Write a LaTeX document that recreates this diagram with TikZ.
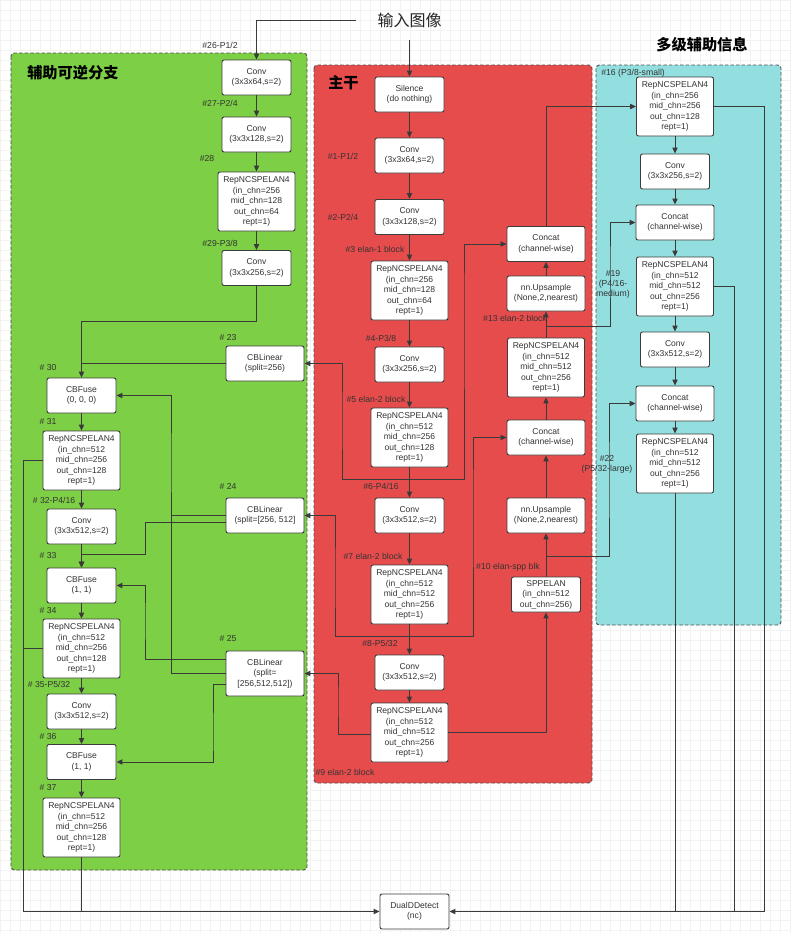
\documentclass[tikz,border=0pt]{standalone}
\usepackage{fontspec}
\setmainfont{Liberation Sans}
\newfontfamily\cjk{Noto Sans CJK SC}
\usetikzlibrary{calc,arrows.meta}

\definecolor{auxgreen}{HTML}{7DCF45}
\definecolor{mainred}{HTML}{E74C4C}
\definecolor{headcyan}{HTML}{93DFE0}
\definecolor{boxline}{HTML}{3C3C3C}
\definecolor{wirec}{HTML}{3A3A3A}
\definecolor{panelline}{HTML}{505050}
\definecolor{txt}{HTML}{333333}
\definecolor{gridc}{HTML}{F2F2F2}

\begin{document}
\begin{tikzpicture}[x=0.75pt, y=-0.75pt, >={Triangle[length=4.5pt,width=4pt]},
    blk/.style={draw=boxline, fill=white, rounded corners=1.5pt, line width=0.7pt,
        align=center, text=txt, font=\fontsize{6.4}{7.9}\selectfont, inner sep=0pt,
        minimum width=51.75pt, minimum height=26.25pt},
    wideblk/.style={blk, minimum width=58.5pt},
    repblk/.style={blk, minimum width=57.75pt, minimum height=44.25pt},
    tag/.style={text=txt, font=\fontsize{6.5}{7.6}\selectfont, inner sep=0pt, align=center},
    wire/.style={draw=wirec, line width=0.75pt},
    panel/.style={draw=panelline, line width=0.7pt, dash pattern=on 2.6pt off 1.6pt, rounded corners=2.5pt},
    heading/.style={font=\cjk\bfseries\fontsize{11.4}{13}\selectfont, inner sep=0pt}]

    % Canvas with grid
    \useasboundingbox (0,0) rectangle (791,933);
    \fill[white] (0,0) rectangle (791,933);
    \draw[gridc, line width=0.3pt, step=7.5pt] (0,933) grid (791,0);

    % Panels
    \draw[panel, fill=auxgreen] (11,53) rectangle (307,870);
    \draw[panel, fill=mainred] (314,65) rectangle (592,783);
    \draw[panel, fill=headcyan] (596,65) rectangle (781,625);

    \node[heading, anchor=west] (tgreen) at (27,73) {辅助可逆分支};
    \node[heading, anchor=west] (tred) at (328,83) {主干};
    \node[heading] (tcyan) at (702,45) {多级辅助信息};

    % Input
    \node[font=\cjk\fontsize{12}{14}\selectfont, text=black!85, inner sep=0pt,
        minimum width=79.5pt, minimum height=30pt] (inp) at (409.5,20) {输入图像};

    % Auxiliary reversible branch
    \node[blk] (c26) at (256.5,77.5) {Conv\\(3x3x64,s=2)};
    \node[blk] (c27) at (256.5,134.5) {Conv\\(3x3x128,s=2)};
    \node[repblk] (r28) at (256.5,201.5) {RepNCSPELAN4\\(in\_chn=256\\mid\_chn=128\\out\_chn=64\\rept=1)};
    \node[blk] (c29) at (256.5,268) {Conv\\(3x3x256,s=2)};
    \node[wideblk] (l23) at (265,363.5) {CBLinear\\(split=256)};
    \node[wideblk] (l24) at (265,515.5) {CBLinear\\(split=[256, 512]};
    \node[wideblk, minimum height=33.75pt] (l25) at (265,673.5) {CBLinear\\(split=\\{[}256,512,512])};
    \node[blk] (f30) at (81.5,395.5) {CBFuse\\(0, 0, 0)};
    \node[repblk] (r31) at (81.5,460.5) {RepNCSPELAN4\\(in\_chn=512\\mid\_chn=256\\out\_chn=128\\rept=1)};
    \node[blk] (c32) at (81.5,526.5) {Conv\\(3x3x512,s=2)};
    \node[blk] (f33) at (81.5,585.5) {CBFuse\\(1, 1)};
    \node[repblk] (r34) at (81.5,648.5) {RepNCSPELAN4\\(in\_chn=512\\mid\_chn=256\\out\_chn=128\\rept=1)};
    \node[blk] (c35) at (81.5,711.5) {Conv\\(3x3x512,s=2)};
    \node[blk] (f36) at (81.5,762) {CBFuse\\(1, 1)};
    \node[repblk] (r37) at (81.5,827.5) {RepNCSPELAN4\\(in\_chn=512\\mid\_chn=256\\out\_chn=128\\rept=1)};

    \node[tag] (n26) at (220,45) {\#26-P1/2};
    \node[tag] (n27) at (220,103) {\#27-P2/4};
    \node[tag] (n28) at (207,159) {\#28};
    \node[tag] (n29) at (220,243) {\#29-P3/8};
    \node[tag] (n23) at (228,338) {\# 23};
    \node[tag] (n24) at (228,486) {\# 24};
    \node[tag] (n25) at (228,639) {\# 25};
    \node[tag] (n30) at (48,368) {\# 30};
    \node[tag] (n31) at (48,422) {\# 31};
    \node[tag] (n32) at (54,500) {\# 32-P4/16};
    \node[tag] (n33) at (48,556) {\# 33};
    \node[tag] (n34) at (48,611) {\# 34};
    \node[tag] (n35) at (49,684) {\# 35-P5/32};
    \node[tag] (n36) at (48,737) {\# 36};
    \node[tag] (n37) at (48,788) {\# 37};

    % Backbone
    \node[blk] (sil) at (409.5,94.5) {Silence\\(do nothing)};
    \node[blk] (c1) at (409.5,155.5) {Conv\\(3x3x64,s=2)};
    \node[blk] (c2) at (409.5,217) {Conv\\(3x3x128,s=2)};
    \node[repblk] (r3) at (409.5,290.5) {RepNCSPELAN4\\(in\_chn=256\\mid\_chn=128\\out\_chn=64\\rept=1)};
    \node[blk] (c4) at (409.5,364.5) {Conv\\(3x3x256,s=2)};
    \node[repblk] (r5) at (409.5,437.5) {RepNCSPELAN4\\(in\_chn=512\\mid\_chn=256\\out\_chn=128\\rept=1)};
    \node[blk] (c6) at (409.5,515.5) {Conv\\(3x3x512,s=2)};
    \node[repblk] (r7) at (409.5,594.5) {RepNCSPELAN4\\(in\_chn=512\\mid\_chn=512\\out\_chn=256\\rept=1)};
    \node[blk] (c8) at (409.5,672.5) {Conv\\(3x3x512,s=2)};
    \node[repblk] (r9) at (409.5,732.5) {RepNCSPELAN4\\(in\_chn=512\\mid\_chn=512\\out\_chn=256\\rept=1)};

    \node[blk] (spp) at (546,594.5) {SPPELAN\\(in\_chn=512\\out\_chn=256)};
    \node[wideblk] (up11) at (546,515.5) {nn.Upsample\\(None,2,nearest)};
    \node[wideblk] (cat12) at (546,437.5) {Concat\\(channel-wise)};
    \node[repblk] (r13) at (546,367.5) {RepNCSPELAN4\\(in\_chn=512\\mid\_chn=512\\out\_chn=256\\rept=1)};
    \node[wideblk] (up14) at (546,293.5) {nn.Upsample\\(None,2,nearest)};
    \node[wideblk] (cat15) at (546,244) {Concat\\(channel-wise)};

    \node[tag] (n1) at (343,156) {\#1-P1/2};
    \node[tag] (n2) at (343,217) {\#2-P2/4};
    \node[tag] (n3) at (375,249) {\#3 elan-1 block};
    \node[tag] (n4) at (381,338) {\#4-P3/8};
    \node[tag] (n5) at (376,399) {\#5 elan-2 block};
    \node[tag] (n6) at (381,486) {\#6-P4/16};
    \node[tag] (n7) at (373,556) {\#7 elan-2 block};
    \node[tag] (n8) at (380,643) {\#8-P5/32};
    \node[tag] (n9) at (345,772) {\#9 elan-2 block};
    \node[tag] (n13) at (515,318) {\#13 elan-2 block};
    \node[tag] (n10) at (508,567) {\#10 elan-spp blk};

    % Multi-level auxiliary information
    \node[repblk] (r16) at (675,106.5) {RepNCSPELAN4\\(in\_chn=256\\mid\_chn=256\\out\_chn=128\\rept=1)};
    \node[blk] (c17) at (675,171.5) {Conv\\(3x3x256,s=2)};
    \node[wideblk] (cat18) at (675,222.5) {Concat\\(channel-wise)};
    \node[repblk] (r19) at (675,286.5) {RepNCSPELAN4\\(in\_chn=512\\mid\_chn=512\\out\_chn=256\\rept=1)};
    \node[blk] (c20) at (675,349.5) {Conv\\(3x3x512,s=2)};
    \node[wideblk] (cat21) at (675,403.5) {Concat\\(channel-wise)};
    \node[repblk] (r22) at (675,463.5) {RepNCSPELAN4\\(in\_chn=512\\mid\_chn=512\\out\_chn=256\\rept=1)};

    \node[tag, anchor=west] (n16) at (601,73) {\#16 (P3/8-small)};
    \node[tag] (n19) at (613,284) {\#19\\(P4/16-\\medium)};
    \node[tag] (n22) at (607,464) {\#22\\(P5/32-large)};

    % Head
    \node[blk] (det) at (414.5,911.5) {DualDDetect\\(nc)};

    % Input wires
    \draw[wire, ->] (inp.west) -| (c26.north);
    \draw[wire, ->] (inp.south) -- (sil.north);

    % Auxiliary branch wires
    \draw[wire, ->] (c26) -- (c27);
    \draw[wire, ->] (c27) -- (r28);
    \draw[wire, ->] (r28) -- (c29);
    \draw[wire, ->] (c29.south) -- ++(0,36) -| (f30.north);
    \draw[wire] (l23.west) -- (l23.west -| f30.north);
    \draw[wire, ->] (f30) -- (r31);
    \draw[wire, ->] (r31) -- (c32);
    \draw[wire, ->] (c32) -- (f33);
    \draw[wire, ->] (f33) -- (r34);
    \draw[wire, ->] (r34) -- (c35);
    \draw[wire, ->] (c35) -- (f36);
    \draw[wire, ->] (f36) -- (r37);

    \draw[wire, ->] (l24.west) -| (171,470) |- (f30.east);
    \draw[wire, ->] ($(l24.west)+(0,7)$) -| (145,554) -| (f33.north);
    \draw[wire] (l25.west) -| (171,515.5);
    \draw[wire, ->] ($(l25.west)+(0,-14)$) -| (145,620) |- (f33.east);
    \draw[wire, ->] ($(l25.west)+(0,11)$) -| (213,740) |- (f36.east);

    % Backbone wires
    \draw[wire, ->] (sil) -- (c1);
    \draw[wire, ->] (c1) -- (c2);
    \draw[wire, ->] (c2) -- (r3);
    \draw[wire, ->] (r3) -- (c4);
    \draw[wire, ->] (c4) -- (r5);
    \draw[wire, ->] (r5) -- (c6);
    \draw[wire, ->] (c6) -- (r7);
    \draw[wire, ->] (r7) -- (c8);
    \draw[wire, ->] (c8) -- (r9);

    \coordinate (p5) at (409.5,479);
    \draw[wire, ->] (p5) -| (342,420) |- (l23.east);
    \draw[wire, ->] (p5) -| (464,300) |- (cat15.west);
    \coordinate (p7) at (409.5,636);
    \draw[wire, ->] (p7) -| (335,580) |- (l24.east);
    \draw[wire, ->] (p7) -| (473,500) |- (cat12.west);
    \draw[wire, ->] ($(r9.west)+(0,1.5)$) -| (338,700) |- (l25.east);
    \draw[wire, ->] (r9.east) -| (spp.south);

    \draw[wire, ->] (spp) -- (up11);
    \draw[wire, ->] (up11) -- (cat12);
    \draw[wire, ->] (cat12) -- (r13);
    \draw[wire, ->] (r13) -- (up14);
    \draw[wire, ->] (up14) -- (cat15);
    \draw[wire, ->] (cat15.north) |- (r16.west);

    \coordinate (p10) at (546,556);
    \draw[wire, ->] (p10) -| (609,480) |- (cat21.west);
    \coordinate (p13) at (546,326);
    \draw[wire, ->] (p13) -| (610,270) |- (cat18.west);

    % Multi-level wires
    \draw[wire, ->] (r16) -- (c17);
    \draw[wire, ->] (c17) -- (cat18);
    \draw[wire, ->] (cat18) -- (r19);
    \draw[wire, ->] (r19) -- (c20);
    \draw[wire, ->] (c20) -- (cat21);
    \draw[wire, ->] (cat21) -- (r22);

    % Outputs to the detector
    \coordinate (lb) at (23,911.5);
    \coordinate (rb) at (764,911.5);
    \draw[wire] (r31.west) -| (lb);
    \draw[wire] (r34.west) -| (lb);
    \draw[wire] (r37.south) -- (r37.south |- lb);
    \draw[wire, ->] (lb) -- (det.west);
    \draw[wire] (r16.east) -| (rb);
    \draw[wire] (r19.east) -| (734,911.5);
    \draw[wire] (r22.south) -- (r22.south |- rb);
    \draw[wire, ->] (rb) -- (det.east);

\end{tikzpicture}
\end{document}
